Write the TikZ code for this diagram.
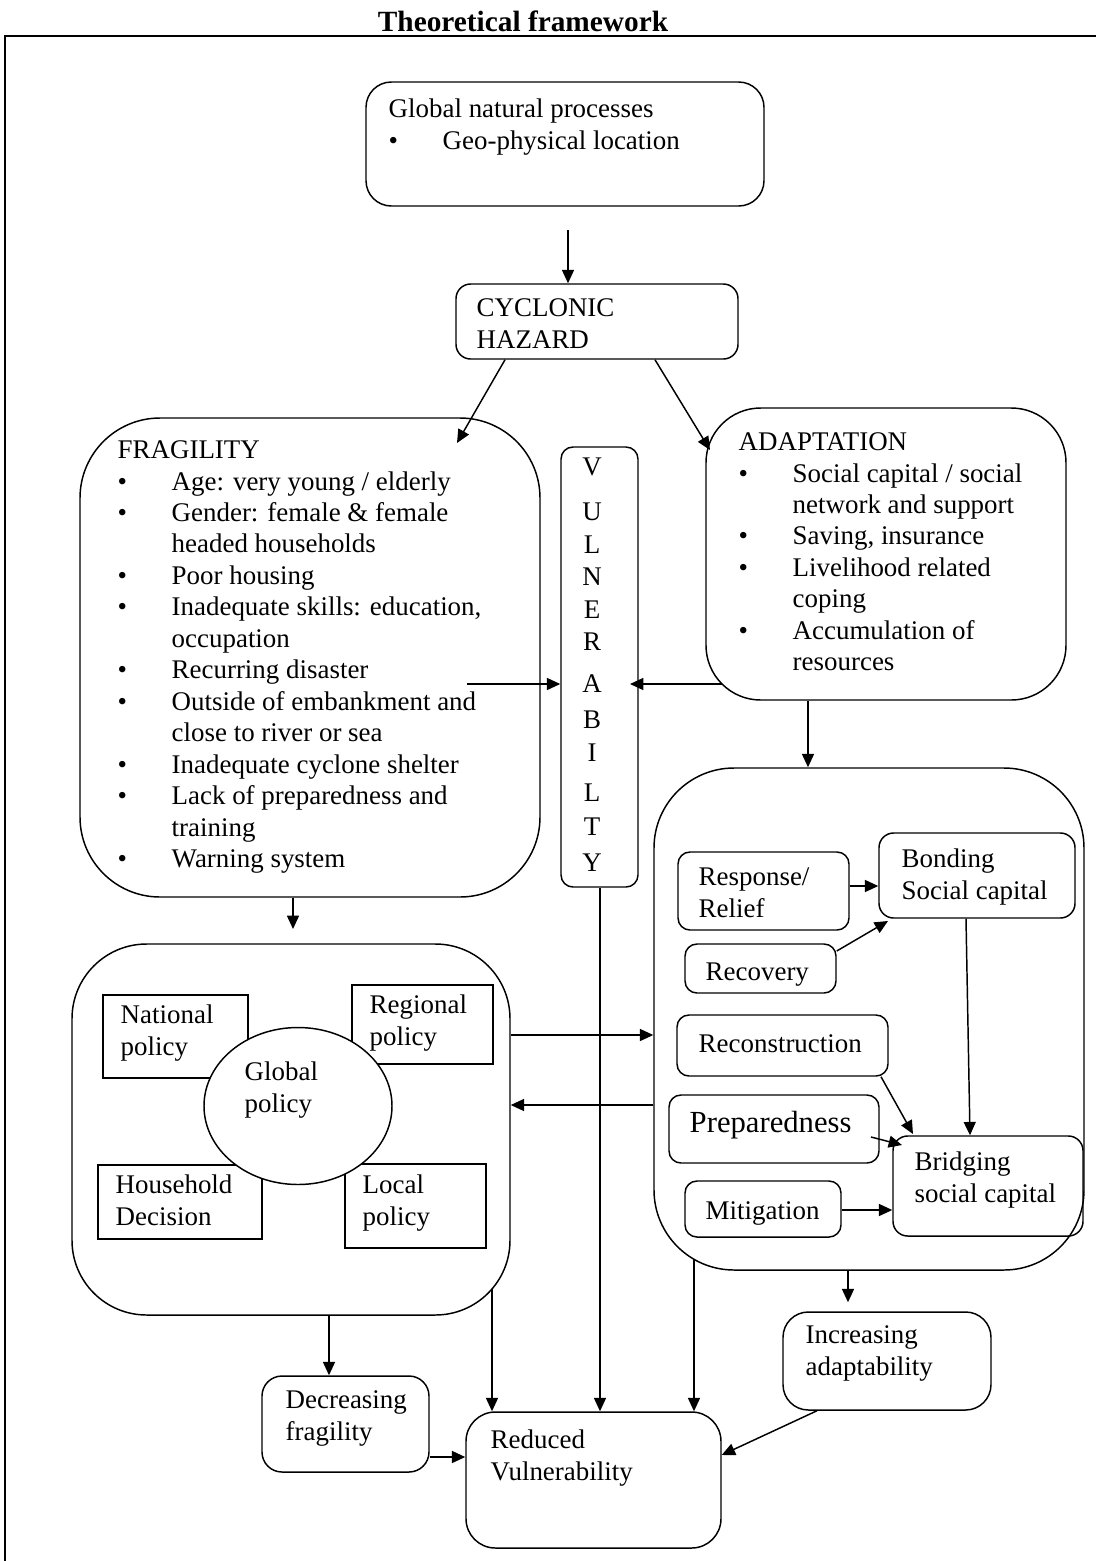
\documentclass[tikz,border=0pt]{standalone}
\usepackage{fontspec}
\setmainfont{Liberation Serif}
\usetikzlibrary{arrows.meta,fit,shapes.geometric}

% bullet item and continuation indent for the lists
\newcommand\bul{\makebox[40.5pt][l]{\textbullet}}
\newcommand\bcont{\hspace*{40.5pt}}

\begin{document}
\begin{tikzpicture}[x=0.75pt,y=-0.75pt,
  line width=1.1pt,
  box/.style={draw, inner sep=0pt, rounded corners=#1},
  box/.default=9pt,
  sqbox/.style={draw, inner sep=0pt, sharp corners},
  txt/.style={anchor=north west, inner sep=0pt, align=left,
    font=\fontsize{20.2}{24.3}\selectfont, execute at begin node={\strut}},
  listtxt/.style={txt, font=\fontsize{20.2}{23.6}\selectfont},
  letter/.style={anchor=base, inner sep=0pt, font=\fontsize{20.2}{24}\selectfont},
  arr/.style={-{Triangle[length=10pt,width=9pt]}},
]
\useasboundingbox (0,0) rectangle (1096,1561);

% title and frame
\node[anchor=base, inner sep=0pt, font=\bfseries\fontsize{22}{26}\selectfont] (title) at (523,31) {Theoretical framework};
\draw[line width=1.6pt] (1096,36) -- (5,36) -- (5,1561);

% top chain
\node[box=19pt, fit={(366,82) (764,206)}] (gnp) {};
\node[txt] (gnpt) at (388,98) {Global natural processes\\ \bul Geo-physical location};

\node[box=11pt, fit={(456,284) (738,359)}] (cyc) {};
\node[txt] (cyct) at (476,298) {CYCLONIC\\HAZARD};

% fragility
\node[box=60pt, fit={(80,418) (540,897)}] (frag) {};
\node[listtxt] (fragt) at (117,440) {FRAGILITY\\
\bul Age: very young / elderly\\
\bul Gender: female \& female\\
\bcont headed households\\
\bul Poor housing\\
\bul Inadequate skills: education,\\
\bcont occupation\\
\bul Recurring disaster\\
\bul Outside of embankment and\\
\bcont close to river or sea\\
\bul Inadequate cyclone shelter\\
\bul Lack of preparedness and\\
\bcont training\\
\bul Warning system};

% vulnerability column
\node[box=9pt, fit={(561,447) (638,887)}] (vul) {};
\foreach \ch/\yy [count=\i] in {V/475,U/520,L/553,N/585,E/618,R/650,A/692,B/728,I/761,L/801,T/835,Y/871}
  \node[letter] (vl\i) at (592,\yy) {\ch};

% adaptation
\node[box=41pt, fit={(706,408) (1066,700)}] (adapt) {};
\node[listtxt] (adaptt) at (738,432) {ADAPTATION\\
\bul Social capital / social\\
\bcont network and support\\
\bul Saving, insurance\\
\bul Livelihood related\\
\bcont coping\\
\bul Accumulation of\\
\bcont resources};

% response block
\node[box=60pt, fit={(654,768) (1084,1270)}] (rbox) {};
\node[box, fit={(678,852) (849,930)}] (resp) {};
\node[txt] (respt) at (698,867) {Response/\\Relief};
\node[box=11pt, fit={(879,833) (1075,918)}] (bond) {};
\node[txt] (bondt) at (901,848) {Bonding\\Social capital};
\node[box, fit={(685,944) (836,993)}] (rec) {};
\node[txt] (rect) at (705,957) {Recovery};
\node[box, fit={(677,1015) (888,1076)}] (recon) {};
\node[txt] (recont) at (698,1029) {Reconstruction};
\node[box, fit={(669,1095) (879,1163)}] (prep) {};
\node[txt, font=\fontsize{23}{27}\selectfont] (prept) at (689,1107) {Preparedness};
\node[box=11pt, fit={(893,1136) (1083,1236)}] (bridg) {};
\node[txt] (bridgt) at (914,1151) {Bridging\\social capital};
\node[box, fit={(685,1181) (841,1237)}] (mit) {};
\node[txt] (mitt) at (705,1196) {Mitigation};

% policy block
\node[box=56pt, fit={(72,944) (510,1315)}] (policy) {};
\node[sqbox, fit={(103,995) (248,1078)}] (nat) {};
\node[txt] (natt) at (120,1004) {National\\policy};
\node[sqbox, fit={(352,985) (493,1064)}] (reg) {};
\node[txt] (regt) at (369,994) {Regional\\policy};
\node[sqbox, fit={(98,1165) (262,1239)}] (hh) {};
\node[txt] (hht) at (115,1174) {Household\\Decision};
\node[sqbox, fit={(345,1164) (486,1248)}] (loc) {};
\node[txt] (loct) at (362,1174) {Local\\policy};
\node[draw, fill=white, ellipse, inner sep=0pt, minimum width=141pt, minimum height=117.75pt] (glob) at (298,1106) {};
\node[txt] (globt) at (244,1061) {Global\\policy};

% outcomes
\node[box=15pt, fit={(262,1376) (429,1472)}] (decr) {};
\node[txt] (decrt) at (285,1390) {Decreasing\\fragility};
\node[box=22pt, fit={(466,1412) (721,1548)}] (red) {};
\node[txt] (redt) at (490,1429) {Reduced\\Vulnerability};
\node[box=19pt, fit={(783,1312) (991,1410)}] (incr) {};
\node[txt] (incrt) at (805,1325) {Increasing\\adaptability};

% free ends of connectors
\coordinate (gout) at (568,230);
\coordinate (fragin) at (457,443);
\coordinate (adin) at (710,450);
\coordinate (fragout) at (467,684);
\coordinate (adout) at (722,684);
\coordinate (vulin) at (630,684);
\coordinate (fragdown) at (293,929);
\coordinate (polcorner) at (492,1289);
\coordinate (rcorner) at (694,1259);

% connectors
\draw[arr] (gout) -- (gout |- cyc.north);
\draw[arr] (cyc.south -| 505,0) -- (fragin);
\draw[arr] (cyc.south -| 655,0) -- (adin);
\draw[arr] (fragout) -- (fragout -| vul.west);
\draw[arr] (adout) -- (vulin);
\draw[arr] (adapt.south -| 808,0) -- (rbox.north -| 808,0);
\draw[arr] (frag.south -| fragdown) -- (fragdown);
\draw[arr] (policy.east |- 0,1035) -- (rbox.west |- 0,1035);
\draw[arr] (rbox.west |- 0,1105) -- (policy.east |- 0,1105);
\draw[arr] (policy.south -| 329,0) -- (decr.north -| 329,0);
\draw[arr] (polcorner) -- (polcorner |- red.north);
\draw[arr] (vul.south -| 600,0) -- (red.north -| 600,0);
\draw[arr] (rcorner) -- (rcorner |- red.north);
\draw[arr, shorten >=6.75pt] (rbox.south -| 848,0) -- (incr.north -| 848,0);
\draw[arr] (incr.south -| 817,0) -- (red.east |- 0,1455);
\draw[arr] (decr.east |- 0,1457) -- (red.west |- 0,1457);

\draw[arr] (resp.east |- 0,886) -- (bond.west |- 0,886);
\draw[arr] (rec.east |- 0,951) -- (888,921);
\draw[arr] (bond.south -| 966,0) -- (bridg.north -| 970,0);
\draw[arr] (recon.south -| 881,0) -- (913,1134);
\draw[arr] (871,1137) -- (902,1145);
\draw[arr] (mit.east |- 0,1210) -- (bridg.west |- 0,1210);
\end{tikzpicture}
\end{document}
